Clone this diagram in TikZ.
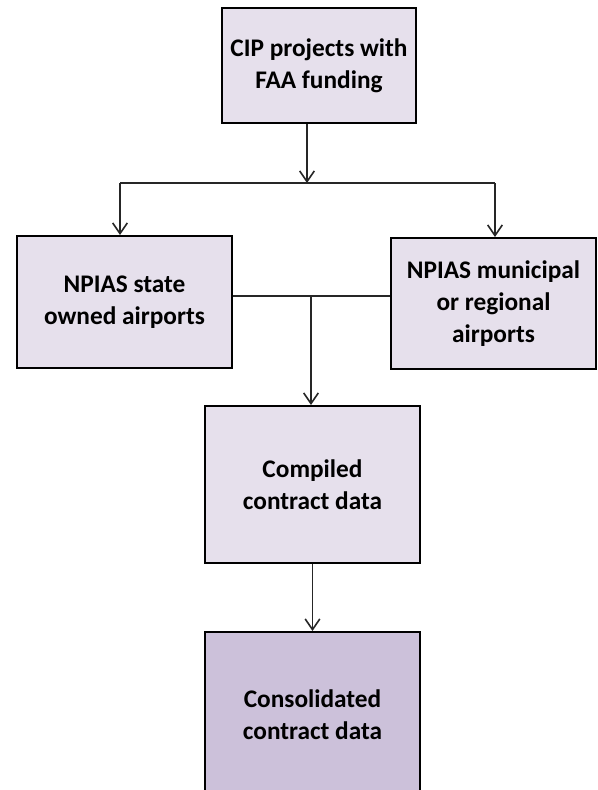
\documentclass[tikz,border=0pt]{standalone}
\usepackage{fontspec}
\setmainfont{Carlito}
\usetikzlibrary{arrows.meta}
\definecolor{lightlav}{HTML}{E6E0EC}
\definecolor{darklav}{HTML}{CCC1DA}
\begin{document}
\begin{tikzpicture}[x=0.75pt, y=-0.75pt,
		box/.style={draw=black, line width=1.5pt, fill=lightlav, align=center,
			font=\fontsize{19}{24}\selectfont\bfseries, inner sep=0pt},
		link/.style={line width=1.2pt, draw=black!85},
		>={Straight Barb[length=8pt, width=11pt]}]
		\clip (0,0) rectangle (597,790);
		\fill[white] (0,0) rectangle (597,790);
		% boxes
		\node[box, minimum width=145.5pt, minimum height=86.25pt] (cip) at (319,65.5) {CIP projects with\\FAA funding};
		\node[box, minimum width=161.25pt, minimum height=99pt] (state) at (124.5,302) {NPIAS state\\owned airports};
		\node[box, minimum width=153.75pt, minimum height=98.25pt] (municipal) at (493.5,303.5) {NPIAS municipal\\or regional\\airports};
		\node[box, minimum width=161.25pt, minimum height=117.75pt] (compiled) at (312.5,484.5) {Compiled\\contract data};
		\node[box, fill=darklav, minimum width=161.25pt, minimum height=124.5pt] (consolidated) at (312.5,715) {Consolidated\\contract data};
		% connectors
		\coordinate (split) at (307,183);
		\coordinate (lft) at (120,183);
		\coordinate (rgt) at (495,183);
		\coordinate (merge) at (311,296);
		\draw[link,->] (cip.south -| split) -- (split);
		\draw[link] (lft) -- (rgt);
		\draw[link,->] (lft) -- (lft |- state.north);
		\draw[link,->] (rgt) -- (rgt |- municipal.north);
		\draw[link] (merge -| state.east) -- (merge -| municipal.west);
		\draw[link,->] (merge) -- (merge |- compiled.north);
		\draw[link,->] (compiled) -- (consolidated);
	\end{tikzpicture}
\end{document}
